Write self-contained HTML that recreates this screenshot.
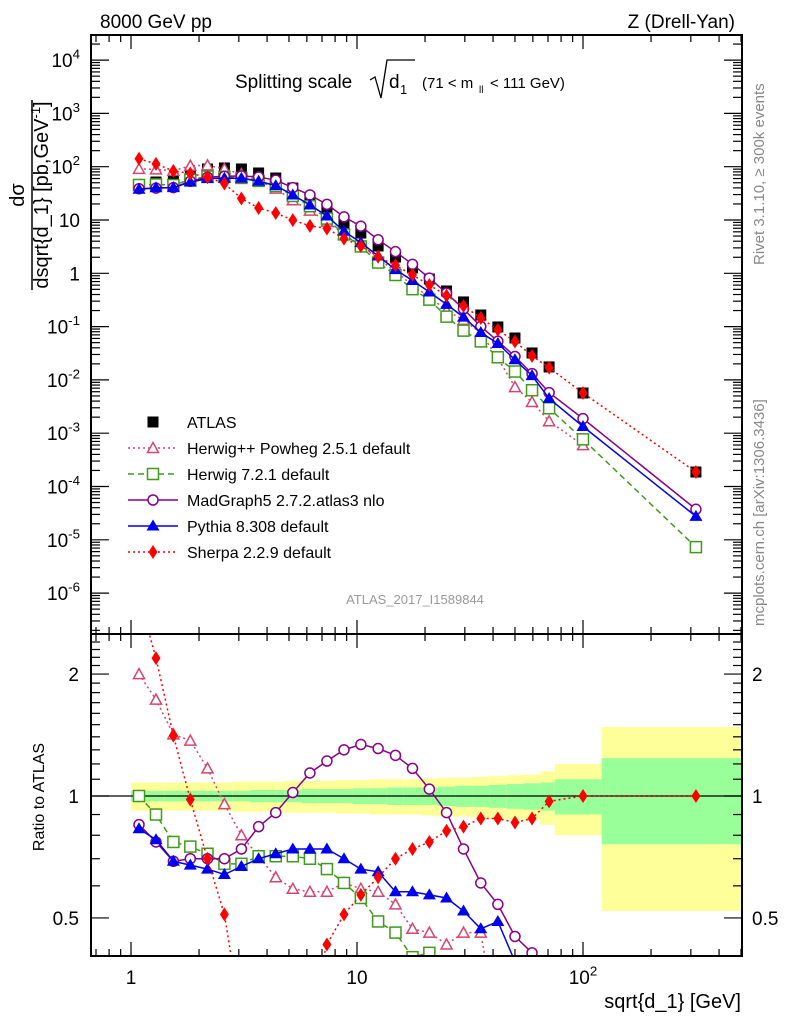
<!DOCTYPE html>
<html><head><meta charset="utf-8"><style>
html,body{margin:0;padding:0;background:#fff;overflow:hidden;width:786px;height:1024px;}
svg{display:block;font-family:"Liberation Sans",sans-serif;}
</style></head><body>
<svg id="chart" width="786" height="1024" viewBox="0 0 786 1024">
<defs>
<clipPath id="clipMain"><rect x="91" y="35" width="651" height="599"/></clipPath>
<clipPath id="clipRatio"><rect x="91" y="634" width="651" height="322"/></clipPath>
</defs>
<g id="bands" clip-path="url(#clipRatio)"></g>
<g id="ticks"></g>
<line x1="91" y1="796" x2="742" y2="796" stroke="#000" stroke-width="1.3"/>
<g id="seriesMain" clip-path="url(#clipMain)"></g>
<g id="seriesRatio" clip-path="url(#clipRatio)"></g>
<rect x="91" y="35" width="651" height="599" fill="none" stroke="#000" stroke-width="2"/>
<rect x="91" y="634" width="651" height="322" fill="none" stroke="#000" stroke-width="2"/>
<g id="labels"></g>
<text x="100" y="28" font-size="19">8000 GeV pp</text>
<text x="735" y="28" font-size="19" text-anchor="end">Z (Drell-Yan)</text>
<g>
<text x="235" y="88" font-size="19">Splitting scale</text>
<path d="M370 80 L375 77 L381 98 L387 60 L415 60" fill="none" stroke="#000" stroke-width="1.3"/>
<text x="389" y="88" font-size="19">d</text><text x="400" y="94" font-size="13">1</text>
<text x="422" y="88" font-size="15">(71 &lt; m</text><text x="479" y="93" font-size="10">ll</text><text x="490" y="88" font-size="15">&lt; 111 GeV)</text>
</g>
<text x="415" y="604" font-size="13" fill="#999" text-anchor="middle">ATLAS_2017_I1589844</text>
<text transform="translate(764,265) rotate(-90)" font-size="15" fill="#888">Rivet 3.1.10, ≥ 300k events</text>
<text transform="translate(764,626) rotate(-90)" font-size="15" fill="#888">mcplots.cern.ch [arXiv:1306.3436]</text>
<g>
<text transform="translate(24,195) rotate(-90)" font-size="20" text-anchor="middle">dσ</text>
<line x1="32" y1="100" x2="32" y2="290" stroke="#000" stroke-width="1.5"/>
<text transform="translate(48,195) rotate(-90)" font-size="20" text-anchor="middle">dsqrt{d_1} [pb,GeV<tspan font-size="13" dy="-8">-1</tspan><tspan dy="8">]</tspan></text>
</g>
<text transform="translate(44,797) rotate(-90)" font-size="16" text-anchor="middle">Ratio to ATLAS</text>
<text x="741" y="1008" font-size="20" text-anchor="end">sqrt{d_1} [GeV]</text>
<g id="legend"></g>
</svg>
<script>
const xCenters=[1.085,1.29,1.54,1.83,2.18,2.59,3.08,3.67,4.37,5.20,6.19,7.36,8.76,10.4,12.4,14.8,17.6,20.9,24.9,29.6,35.3,42.0,50.0,59.5,70.8,100,316];
const binEdges=[1.0,1.18,1.41,1.68,2.0,2.37,2.82,3.36,4.0,4.76,5.67,6.75,8.03,9.56,11.4,13.6,16.1,19.2,22.8,27.2,32.3,38.5,45.8,54.5,64.9,75,121,820];
const atlasVals=[45.4,51.6,58.8,76.2,90.6,94.7,90.6,76.2,61.4,39.8,25.9,16.1,8.79,5.70,3.25,2.02,1.26,0.782,0.466,0.290,0.165,0.0984,0.0611,0.032,0.0175,0.00568,0.000187];
const totErr=[0.08,0.08,0.08,0.08,0.08,0.08,0.085,0.085,0.085,0.09,0.09,0.09,0.095,0.095,0.10,0.10,0.10,0.105,0.11,0.11,0.115,0.12,0.125,0.13,0.15,0.20,0.48];
const statErr=[0.03,0.03,0.03,0.03,0.03,0.03,0.03,0.035,0.035,0.035,0.04,0.04,0.04,0.045,0.045,0.05,0.05,0.05,0.055,0.06,0.06,0.065,0.07,0.075,0.08,0.10,0.24];
const herwigppRatio=[2.0,1.73,1.42,1.37,1.17,0.955,0.80,0.71,0.63,0.59,0.58,0.58,0.61,0.59,0.58,0.54,0.47,0.46,0.43,0.46,0.46,0.26,0.12,0.12,0.096,0.105,null];
const herwig7Ratio=[1.0,0.90,0.77,0.75,0.72,0.68,0.68,0.71,0.71,0.71,0.70,0.66,0.61,0.56,0.49,0.46,0.40,0.41,0.33,0.29,0.32,0.27,0.235,0.20,0.168,0.135,0.039];
const madgraphRatio=[0.85,0.77,0.69,0.70,0.70,0.70,0.74,0.84,0.91,1.02,1.14,1.22,1.30,1.34,1.31,1.26,1.17,1.04,0.91,0.74,0.61,0.54,0.45,0.41,0.33,0.33,0.20];
const pythiaRatio=[0.83,0.78,0.69,0.675,0.66,0.64,0.67,0.70,0.72,0.74,0.74,0.74,0.70,0.66,0.65,0.58,0.58,0.57,0.56,0.52,0.47,0.49,0.39,0.375,0.256,0.235,0.147];
const sherpaRatio=[3.1,2.19,1.41,0.98,0.70,0.51,0.28,0.22,0.22,0.25,0.30,0.43,0.51,0.57,0.63,0.70,0.74,0.77,0.82,0.84,0.88,0.88,0.86,0.88,0.97,1.0,1.0];
const mainTickLabels=["10^4","10^3","10^2","10","1","10^-1","10^-2","10^-3","10^-4","10^-5","10^-6"];
const ratioTickLabels=["2","1","0.5"];
const xTickLabels=["1","10","10^2"];

const NS="http://www.w3.org/2000/svg";
const L=Math.log10;
const X=v=>131+226*L(v);
const Y=v=>273.3-53.3*L(v);
const R=v=>796-405*L(v);
function mk(tag,attrs,parent){const e=document.createElementNS(NS,tag);for(const k in attrs)e.setAttribute(k,attrs[k]);parent.appendChild(e);return e;}

const gb=document.getElementById('bands');
for(let i=0;i<xCenters.length;i++){
  const x0=Math.max(91,X(binEdges[i])),x1=Math.min(742,X(binEdges[i+1]));
  const y=mk('rect',{x:x0,y:R(1+totErr[i]),width:x1-x0,height:R(1-totErr[i])-R(1+totErr[i]),fill:'#ffff99'},gb);
  
  
  const g=mk('rect',{x:x0,y:R(1+statErr[i]),width:x1-x0,height:R(1-statErr[i])-R(1+statErr[i]),fill:'#99ff99'},gb);
  
  
}

const gt=document.getElementById('ticks');
function tl(x1,y1,x2,y2){mk('line',{x1,y1,x2,y2,stroke:'#000','stroke-width':1.2},gt);}
for(let d=-1;d<=2;d++){for(let m=1;m<10;m++){const v=m*Math.pow(10,d);const x=X(v);if(x<92||x>741)continue;const len=m===1?14:7;
  tl(x,35,x,35+len);tl(x,634,x,634-len);tl(x,634,x,634+len);tl(x,956,x,956-len);}}
for(let d=-7;d<=5;d++){for(let m=1;m<10;m++){const v=m*Math.pow(10,d);const y=Y(v);if(y<36||y>633)continue;const len=m===1?18:9;
  tl(91,y,91+len,y);tl(742,y,742-len,y);}}
[0.4,0.5,0.6,0.7,0.8,0.9,1,1.1,1.2,1.3,1.4,1.5,1.6,1.7,1.8,1.9,2,2.1,2.2,2.3,2.4,2.5].forEach(v=>{const y=R(v);if(y<635||y>955)return;const len=(v===0.5||v===1||v===2)?18:9;tl(91,y,91+len,y);tl(742,y,742-len,y);});

const gl=document.getElementById('labels');
function sup(lbl,x,y,anchor,size,name){
  const t=mk('text',{x,y,'font-size':size,'text-anchor':anchor},gl);
  
  
  const p=lbl.split('^');t.textContent=p[0];
  if(p[1]){const s=mk('tspan',{'font-size':size*0.7,dy:-size*0.45},t);s.textContent=p[1];}
}
mainTickLabels.forEach((lb,i)=>{sup(lb,80,Y(Math.pow(10,4-i))+7,'end',19,'y-tick-label');});
ratioTickLabels.forEach((lb,i)=>{const v=[2,1,0.5][i];sup(lb,79,R(v)+7,'end',19,'ratio-tick-label');sup(lb,752,R(v)+7,'start',19,'ratio-tick-label-right');});
xTickLabels.forEach((lb,i)=>{sup(lb,X(Math.pow(10,i)),984,'middle',19,'x-tick-label');});

const series=[
 {name:'herwigpp',ratio:herwigppRatio,color:'#d6456e',dash:'2,3',marker:'otri',label:'Herwig++ Powheg 2.5.1 default'},
 {name:'herwig7',ratio:herwig7Ratio,color:'#3f9a1a',dash:'6,4',marker:'osq',label:'Herwig 7.2.1 default'},
 {name:'madgraph',ratio:madgraphRatio,color:'#880088',dash:'',marker:'ocirc',label:'MadGraph5 2.7.2.atlas3 nlo'},
 {name:'pythia',ratio:pythiaRatio,color:'#0000ee',dash:'',marker:'ftri',label:'Pythia 8.308 default'},
 {name:'sherpa',ratio:sherpaRatio,color:'#ff0000',dash:'2,3',marker:'fdia',label:'Sherpa 2.2.9 default'}
];
function marker(type,x,y,c,parent){
  let e;
  if(type==='otri')e=mk('polygon',{points:`${x},${y-5.5} ${x-5.5},${y+4.5} ${x+5.5},${y+4.5}`,fill:'#fff',stroke:c,'stroke-width':1.5},parent);
  else if(type==='osq')e=mk('rect',{x:x-5.5,y:y-5.5,width:11,height:11,fill:'#fff',stroke:c,'stroke-width':1.5},parent);
  else if(type==='ocirc')e=mk('circle',{cx:x,cy:y,r:5,fill:'#fff',stroke:c,'stroke-width':1.5},parent);
  else if(type==='ftri')e=mk('polygon',{points:`${x},${y-6.5} ${x-6.5},${y+4.5} ${x+6.5},${y+4.5}`,fill:c},parent);
  else if(type==='fdia')e=mk('polygon',{points:`${x},${y-7} ${x-4.5},${y} ${x},${y+7} ${x+4.5},${y}`,fill:c},parent);
  else e=mk('rect',{x:x-5.5,y:y-5.5,width:11,height:11,fill:c},parent);
  return e;
}
const gm=document.getElementById('seriesMain'),gr=document.getElementById('seriesRatio');
const ga=mk('g',{},gm);


atlasVals.forEach((v,i)=>{const m=marker('fsq',X(xCenters[i]),Y(v),'#000',ga);
  
  });
series.forEach(s=>{
  const pm=[],pr=[];
  s.ratio.forEach((r,i)=>{if(r==null)return;pm.push([X(xCenters[i]),Y(atlasVals[i]*r)]);pr.push([X(xCenters[i]),R(r)]);});
  [[gm,pm],[gr,pr]].forEach(([g,pts])=>{
    const grp=mk('g',{},g);
    
    
    const pl=mk('polyline',{points:pts.map(p=>p.join(',')).join(' '),fill:'none',stroke:s.color,'stroke-width':1.5},grp);
    if(s.dash)pl.setAttribute('stroke-dasharray',s.dash);
    
    
    pts.forEach(p=>{const m=marker(s.marker,p[0],p[1],s.color,grp);
      
      });
  });
});

const lg=document.getElementById('legend');


const legY=[422,448,474,500,526,552];
const ents=[{label:'ATLAS',marker:'fsq',color:'#000',dash:null}].concat(series);
ents.forEach((s,i)=>{
  const g=mk('g',{},lg);
  
  
  const y=legY[i];
  if(s.dash!==null){const l=mk('line',{x1:128,y1:y,x2:178,y2:y,stroke:s.color,'stroke-width':1.5},g);if(s.dash)l.setAttribute('stroke-dasharray',s.dash);}
  marker(s.marker,153,y,s.color,g);
  const t=mk('text',{x:187,y:y+6,'font-size':16},g);t.textContent=s.label;
});
</script>
</body></html>
